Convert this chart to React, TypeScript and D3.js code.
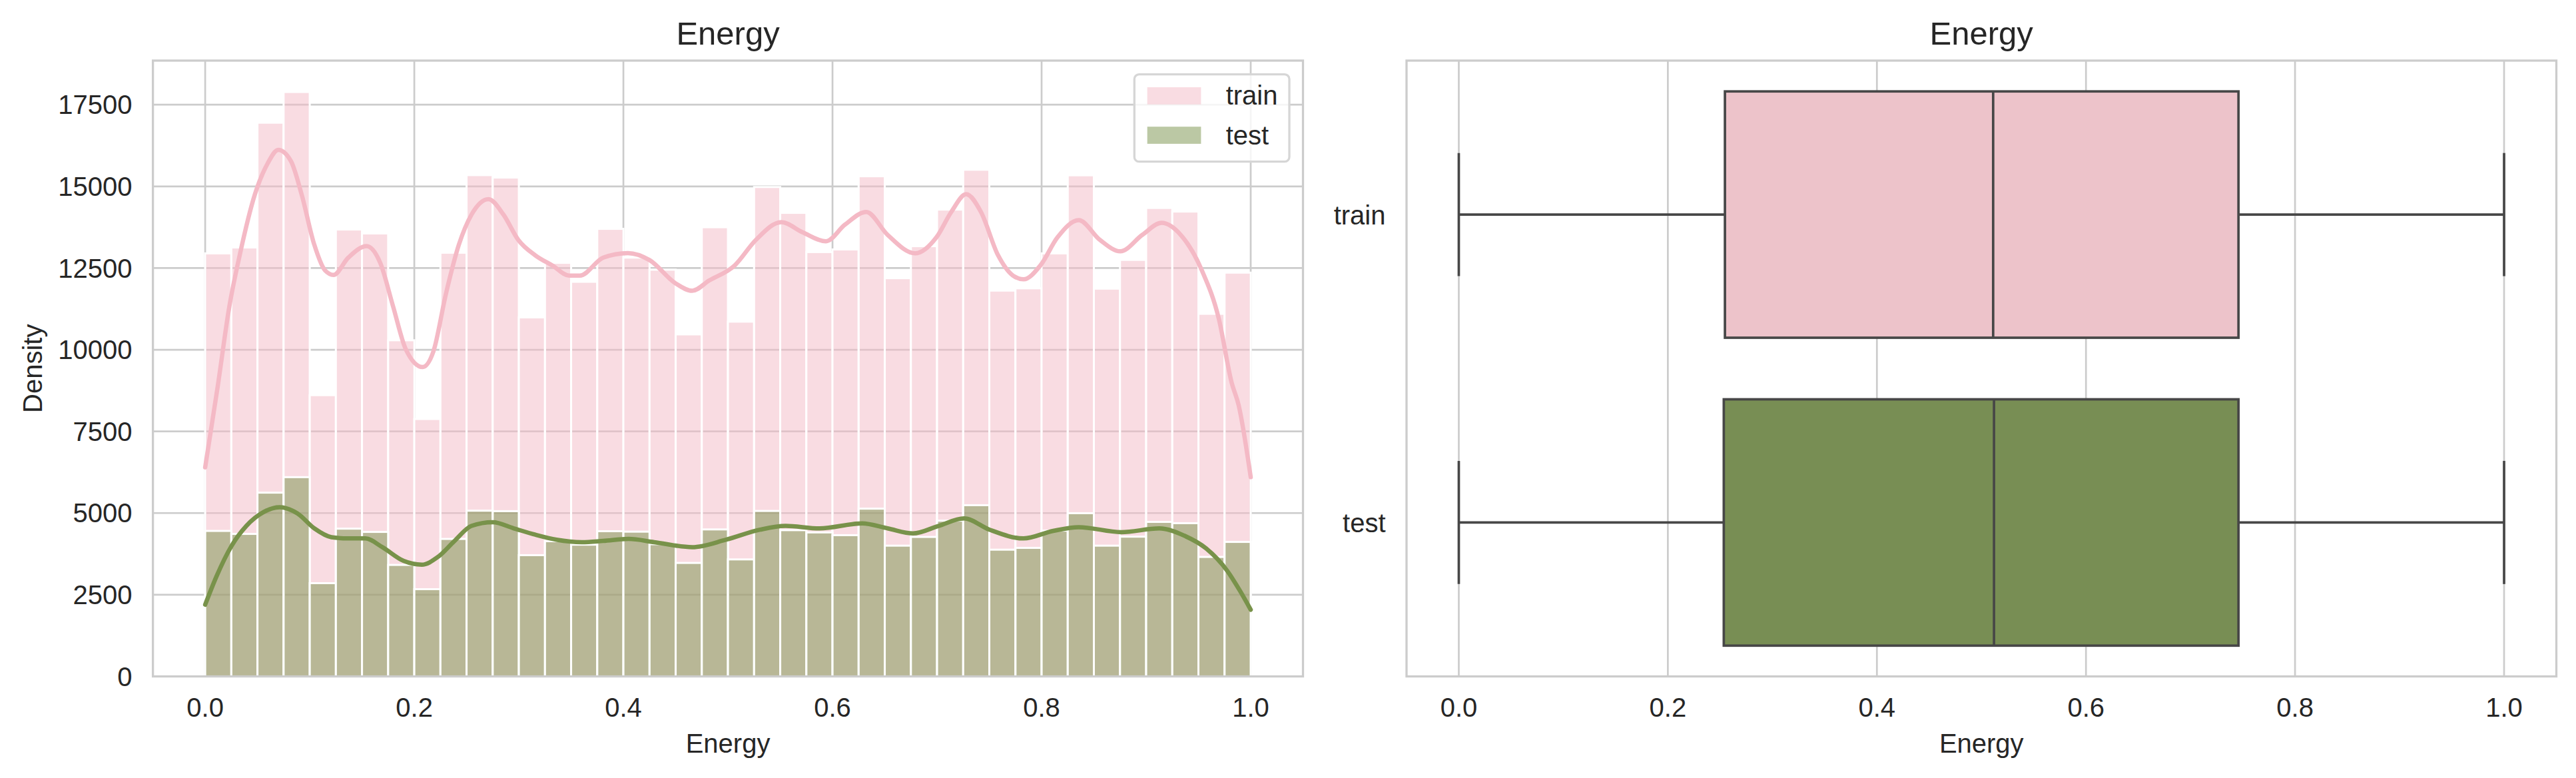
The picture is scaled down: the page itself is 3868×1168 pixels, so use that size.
import React from "react";
import * as d3 from "d3";

// ---------- data ----------
const binEdges = d3.range(0, 41).map((i) => i / 40);
const trainCounts = [
  12950, 13130, 16950, 17890, 8610, 13680, 13560, 10290, 7880, 12970,
  15345, 15270, 10990, 12660, 12080, 13700, 12820, 12450, 10470, 13750,
  10860, 14980, 14190, 12990, 13070, 15310, 12190, 13170, 14290, 15510,
  11810, 11880, 12950, 15340, 11870, 12750, 14340, 14230, 11100, 12360,
];
const testCounts = [
  4454, 4362, 5625, 6100, 2855, 4523, 4423, 3413, 2671, 4209,
  5074, 5059, 3712, 4140, 4033, 4446, 4431, 4048, 3474, 4500,
  3582, 5066, 4477, 4408, 4324, 5135, 4003, 4270, 4768, 5242,
  3880, 3934, 4462, 4997, 4003, 4278, 4730, 4691, 3658, 4117,
];
const trainKde: [number, number][] = [
  [0.0, 6400], [0.012, 8880], [0.0232, 11340], [0.033, 12890], [0.0476, 14760],
  [0.0597, 15700], [0.0699, 16120], [0.0821, 15770], [0.0922, 14760], [0.1044, 13210],
  [0.1146, 12430], [0.1227, 12290], [0.1369, 12820], [0.1544, 13170], [0.1674, 12660],
  [0.1796, 11340], [0.1918, 10020], [0.208, 9470], [0.2182, 9940], [0.2304, 11730],
  [0.2426, 13210], [0.2548, 14140], [0.271, 14610], [0.2852, 14140], [0.2995, 13360],
  [0.3157, 12890], [0.332, 12580], [0.3482, 12270], [0.3584, 12270], [0.3807, 12820],
  [0.4043, 12960], [0.4252, 12740], [0.4495, 12040], [0.4658, 11805], [0.4821, 12120],
  [0.5064, 12580], [0.5267, 13360], [0.5511, 13906], [0.5714, 13595], [0.5937, 13320],
  [0.612, 13830], [0.6323, 14217], [0.6527, 13517], [0.6791, 12950], [0.6994, 13440],
  [0.7136, 14217], [0.7278, 14762], [0.742, 14217], [0.7583, 12894], [0.7725, 12272],
  [0.7827, 12155], [0.7989, 12583], [0.8152, 13440], [0.8355, 13968], [0.8558, 13361],
  [0.8753, 13011], [0.8964, 13517], [0.9147, 13883], [0.933, 13517], [0.9533, 12428],
  [0.9695, 10949], [0.9817, 9000], [0.9885, 8300], [1.0, 6100],
];
const testKde: [number, number][] = [
  [0.0, 2196], [0.011, 3076], [0.0252, 3995], [0.0394, 4607], [0.0557, 5028],
  [0.0711, 5181], [0.0882, 4990], [0.1044, 4531], [0.1207, 4263], [0.1369, 4224],
  [0.1532, 4224], [0.1694, 3957], [0.1898, 3536], [0.2072, 3421], [0.2223, 3651],
  [0.2385, 4148], [0.2547, 4607], [0.275, 4722], [0.2953, 4531], [0.3157, 4339],
  [0.336, 4186], [0.3603, 4110], [0.3807, 4148], [0.405, 4209], [0.4294, 4110],
  [0.4658, 3957], [0.4983, 4186], [0.5308, 4492], [0.5551, 4607], [0.5876, 4531],
  [0.6283, 4684], [0.6527, 4531], [0.677, 4378], [0.7014, 4607], [0.7258, 4837],
  [0.7502, 4492], [0.7827, 4224], [0.8111, 4454], [0.8355, 4569], [0.8761, 4416],
  [0.9126, 4531], [0.937, 4301], [0.9573, 3918], [0.9776, 3230], [0.9898, 2617],
  [1.0, 2043],
];
const categories = ["train", "test"];
const boxStats = [
  { name: "train", min: 0.0, q1: 0.2546, median: 0.5112, q3: 0.7459, max: 1.0 },
  { name: "test", min: 0.0, q1: 0.2535, median: 0.512, q3: 0.7459, max: 1.0 },
];
const xTicks = [0, 0.2, 0.4, 0.6, 0.8, 1.0];
const yTicks = [0, 2500, 5000, 7500, 10000, 12500, 15000, 17500];
const xDomain: [number, number] = [-0.05, 1.05];
const yDomain: [number, number] = [0, 18850];

// ---------- style ----------
const FONT = '"Liberation Sans", Arial, "DejaVu Sans", sans-serif';
const TEXT = "#262626";
const GRID = "#cccccc";
const TRAIN = "#F4B9C5";
const TEST = "#78924A";
const TRAIN_BOX = "#EDC3CA";
const TEST_BOX = "#788E54";
const BOX_LINE = "#474747";

const W = 3868;
const H = 1168;
const top = 91;
const bottom = 1015.5;
const L1 = 229.6, R1 = 1956.5;
const L2 = 2112, R2 = 3838.5;

function HistPanel() {
  const x = d3.scaleLinear().domain(xDomain).range([L1, R1]);
  const y = d3.scaleLinear().domain(yDomain).range([bottom, top]);
  const line = d3
    .line<[number, number]>()
    .x((d) => x(d[0]))
    .y((d) => y(d[1]))
    .curve(d3.curveMonotoneX);
  const bars = (counts: number[], color: string) =>
    counts.map((c, i) => (
      <rect
        key={i}
        x={x(binEdges[i])}
        y={y(c)}
        width={x(binEdges[i + 1]) - x(binEdges[i])}
        height={y(0) - y(c)}
        fill={color}
        fillOpacity={0.5}
        stroke="#ffffff"
        strokeWidth={3}
      />
    ));
  const cx = (L1 + R1) / 2;
  const lgX = R1 - 253.2;
  const lgY = top + 20.7;
  return (
    <g>
      {/* grid */}
      {yTicks.map((t) => (
        <line key={"gy" + t} x1={L1} x2={R1} y1={y(t)} y2={y(t)} stroke={GRID} strokeWidth={2.7} />
      ))}
      {xTicks.map((t) => (
        <line key={"gx" + t} x1={x(t)} x2={x(t)} y1={top} y2={bottom} stroke={GRID} strokeWidth={2.7} />
      ))}
      {bars(trainCounts, TRAIN)}
      {bars(testCounts, TEST)}
      <path d={line(trainKde) || ""} fill="none" stroke={TRAIN} strokeWidth={6.5} strokeLinecap="round" />
      <path d={line(testKde) || ""} fill="none" stroke={TEST} strokeWidth={6.5} strokeLinecap="round" />
      {/* spines */}
      <rect x={L1} y={top} width={R1 - L1} height={bottom - top} fill="none" stroke={GRID} strokeWidth={3.3} />
      {/* tick labels */}
      {yTicks.map((t) => (
        <text key={"ty" + t} x={198.5} y={y(t) + 14.2} textAnchor="end" fontSize={40} fill={TEXT} fontFamily={FONT}>
          {String(t)}
        </text>
      ))}
      {xTicks.map((t) => (
        <text key={"tx" + t} x={x(t)} y={1075.5} textAnchor="middle" fontSize={40} fill={TEXT} fontFamily={FONT}>
          {t.toFixed(1)}
        </text>
      ))}
      <text x={cx} y={1129.5} textAnchor="middle" fontSize={40} fill={TEXT} fontFamily={FONT}>Energy</text>
      <text
        transform={`translate(63,${(top + bottom) / 2}) rotate(-90)`}
        textAnchor="middle"
        fontSize={40}
        fill={TEXT}
        fontFamily={FONT}
      >
        Density
      </text>
      <text x={cx} y={66.5} textAnchor="middle" fontSize={49} fill={TEXT} fontFamily={FONT}>Energy</text>
      {/* legend */}
      <rect x={lgX} y={lgY} width={232.7} height={131} rx={7} fill="#ffffff" fillOpacity={0.8} stroke="#d6d6d6" strokeWidth={3.3} />
      {categories.map((c, i) => (
        <g key={"lg" + c}>
          <rect x={lgX + 19.4} y={lgY + 19.3 + i * 59.2} width={80.7} height={25.7} fill={i === 0 ? TRAIN : TEST} fillOpacity={0.5} />
          <text x={lgX + 137.4} y={lgY + 45.6 + i * 59.2} fontSize={40} fill={TEXT} fontFamily={FONT}>{c}</text>
        </g>
      ))}
    </g>
  );
}

function BoxPanel() {
  const x = d3.scaleLinear().domain(xDomain).range([L2, R2]);
  const y = d3.scaleBand<string>().domain(categories).range([top, bottom]).paddingInner(0).paddingOuter(0);
  const bw = y.bandwidth();
  const cx = (L2 + R2) / 2;
  return (
    <g>
      {xTicks.map((t) => (
        <line key={"gx" + t} x1={x(t)} x2={x(t)} y1={top} y2={bottom} stroke={GRID} strokeWidth={2.7} />
      ))}
      {boxStats.map((b, i) => {
        const c = (y(b.name) as number) + bw / 2;
        const h = bw * 0.8;
        const capH = bw * 0.4;
        return (
          <g key={b.name}>
            <line x1={x(b.min)} x2={x(b.q1)} y1={c} y2={c} stroke={BOX_LINE} strokeWidth={3.7} />
            <line x1={x(b.q3)} x2={x(b.max)} y1={c} y2={c} stroke={BOX_LINE} strokeWidth={3.7} />
            <line x1={x(b.min)} x2={x(b.min)} y1={c - capH / 2} y2={c + capH / 2} stroke={BOX_LINE} strokeWidth={3.7} />
            <line x1={x(b.max)} x2={x(b.max)} y1={c - capH / 2} y2={c + capH / 2} stroke={BOX_LINE} strokeWidth={3.7} />
            <rect
              x={x(b.q1)}
              y={c - h / 2}
              width={x(b.q3) - x(b.q1)}
              height={h}
              fill={i === 0 ? TRAIN_BOX : TEST_BOX}
              stroke={BOX_LINE}
              strokeWidth={3.7}
            />
            <line x1={x(b.median)} x2={x(b.median)} y1={c - h / 2} y2={c + h / 2} stroke={BOX_LINE} strokeWidth={3.7} />
            <text x={2080.5} y={c + 14.5} textAnchor="end" fontSize={40} fill={TEXT} fontFamily={FONT}>{b.name}</text>
          </g>
        );
      })}
      <rect x={L2} y={top} width={R2 - L2} height={bottom - top} fill="none" stroke={GRID} strokeWidth={3.3} />
      {xTicks.map((t) => (
        <text key={"tx" + t} x={x(t)} y={1075.5} textAnchor="middle" fontSize={40} fill={TEXT} fontFamily={FONT}>
          {t.toFixed(1)}
        </text>
      ))}
      <text x={cx} y={1129.5} textAnchor="middle" fontSize={40} fill={TEXT} fontFamily={FONT}>Energy</text>
      <text x={cx} y={66.5} textAnchor="middle" fontSize={49} fill={TEXT} fontFamily={FONT}>Energy</text>
    </g>
  );
}

export default function App() {
  return (
    <div style={{ position: "absolute", left: 0, top: 0, width: W, height: H, background: "#ffffff" }}>
      <svg width={W} height={H} viewBox={`0 0 ${W} ${H}`} style={{ display: "block" }}>
        <rect x={0} y={0} width={W} height={H} fill="#ffffff" />
        <HistPanel />
        <BoxPanel />
      </svg>
    </div>
  );
}
